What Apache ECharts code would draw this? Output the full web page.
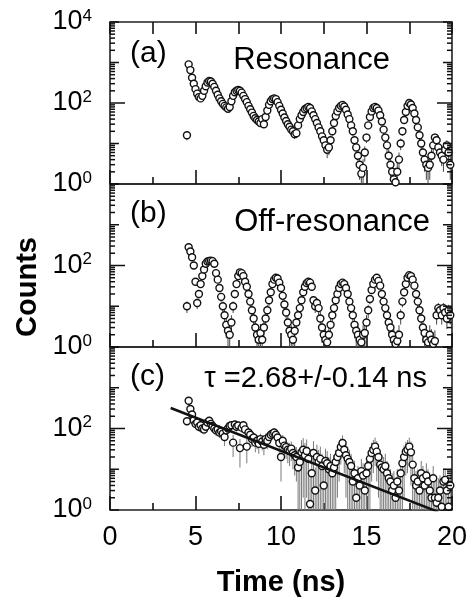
<!DOCTYPE html>
<html><head><meta charset="utf-8">
<script src="https://cdn.jsdelivr.net/npm/echarts@6/dist/echarts.min.js"></script>
<style>html,body{margin:0;padding:0;background:#fff}#c{width:473px;height:601px}</style>
</head><body><div id="c"></div>
<script>
// ---- data ----
const times = [4.5,4.6,4.7,4.8,4.9,
5.0,5.1,5.2,5.3,5.4,5.5,5.6,5.7,5.8,5.9,
6.0,6.1,6.2,6.3,6.4,6.5,6.6,6.7,6.8,6.9,
7.0,7.1,7.2,7.3,7.4,7.5,7.6,7.7,7.8,7.9,
8.0,8.1,8.2,8.3,8.4,8.5,8.6,8.7,8.8,8.9,
9.0,9.1,9.2,9.3,9.4,9.5,9.6,9.7,9.8,9.9,
10.0,10.1,10.2,10.3,10.4,10.5,10.6,10.7,10.8,10.9,
11.0,11.1,11.2,11.3,11.4,11.5,11.6,11.7,11.8,11.9,
12.0,12.1,12.2,12.3,12.4,12.5,12.6,12.7,12.8,12.9,
13.0,13.1,13.2,13.3,13.4,13.5,13.6,13.7,13.8,13.9,
14.0,14.1,14.2,14.3,14.4,14.5,14.6,14.7,14.8,14.9,
15.0,15.1,15.2,15.3,15.4,15.5,15.6,15.7,15.8,15.9,
16.0,16.1,16.2,16.3,16.4,16.5,16.6,16.7,16.8,16.9,
17.0,17.1,17.2,17.3,17.4,17.5,17.6,17.7,17.8,17.9,
18.0,18.1,18.2,18.3,18.4,18.5,18.6,18.7,18.8,18.9,
19.0,19.1,19.2,19.3,19.4,19.5,19.6,19.7,19.8,19.9];

const resonanceCounts = [16,900,650,420,300,
220,170,140,130,150,200,260,320,350,340,
300,250,200,160,130,110,95,85,78,72,
80,110,150,185,200,210,200,180,150,125,
105,85,70,58,48,42,38,35,32,40,
30,45,65,90,110,125,130,125,105,85,
68,55,44,36,30,26,22,20,17,18,
28,40,50,60,70,75,80,75,62,50,
40,32,25,20,15,12,9,7,8,12,
20,32,48,62,75,85,90,82,68,52,
40,28,20,12,8,5,3,1.8,2.5,6,
14,28,45,62,75,80,75,65,50,35,
22,14,9,5,3,2,1.3,1.1,2,4,
10,20,38,60,85,100,92,75,55,38,
25,16,10,6,4,3,2.5,3,5,9,
14,12,8,6,5,4,7,9,6,3];

const offResonanceCounts = [10,280,220,160,100,
40,12,20,35,55,80,110,125,130,132,
128,110,65,45,28,17,10,6,3.5,2.5,
2,4,10,20,35,55,68,65,55,40,
30,20,13,8,5,3,2,1.5,2.2,1.5,
3,5,8,14,22,35,45,50,48,38,
28,18,11,7,4,2.5,2,1.5,2.5,4,
6,9,14,22,30,37,40,38,30,14,
10,12,9,5,3,2,1.5,1.3,2,3.5,
6,9,14,20,28,35,38,35,28,20,
13,9,6,3.5,2.5,2,1.5,1.3,2,2.2,
4,8,15,25,35,45,50,42,32,20,
13,9,6,4,3,2,1.5,1.2,1.4,2,
6,13,22,35,50,58,55,45,32,20,
13,8,5,3,2.2,1.5,1.3,2,1.5,1.2,
1.4,6,9,8,6,9,7,5,8,6];

const decayCounts = [150,480,300,220,160,
130,140,110,120,100,95,110,140,155,130,
115,100,90,95,80,85,75,62,90,100,
115,120,45,125,110,118,33,105,120,95,
36,80,70,55,60,45,50,42,55,48,
40,55,50,62,70,75,80,70,60,44,
20,50,38,35,30,28,32,25,22,20,
11,15,26,30,22,28,18,1.4,8,25,
3,20,15,18,12,4,16,14,10,12,
8,11,15,20,25,35,44,30,22,18,
15,12,5,8,2,6,4,9,7,3,
8,12,18,25,30,36,27,20,13,11,
10,12,8,6,5,3,4,2,5,3,
8,14,20,27,30,36,26,13,6,4,
5,3,8,6,4,7,5,3,2,6,
2,1.5,2,3,1.2,5,5.5,3,1.2,4];

const decayErrors = [30,70,50,40,30,
28,28,25,26,24,24,25,28,30,28,
26,25,24,24,22,23,22,25,24,25,
26,26,25,27,26,26,22,25,26,24,
22,22,21,20,20,19,19,18,20,19,
18,20,19,20,21,21,22,21,20,25,
15,19,17,17,16,16,16,15,15,15,
10,15,26,28,22,26,18,8,10,24,
8,20,15,18,12,8,16,14,10,12,
8,11,15,18,20,22,24,22,20,18,
15,12,6,8,6,6,5,9,7,5,
8,12,17,20,22,24,22,18,13,11,
10,12,8,6,5,5,5,4,5,5,
8,14,18,20,22,24,22,13,6,5,
5,4,8,6,5,7,5,4,4,6,
4,4,4,4,3,5,5,4,3,4];

const fitTimes = [3.55, 19.2];
const fitCounts = [320, 0.9];

const xTickValues = [0, 5, 10, 15, 20];
const panelLabels = ['(a)', '(b)', '(c)'];
const panelTitles = ['Resonance', 'Off-resonance', '\u03c4 =2.68+/-0.14 ns'];
const yAxisTitle = 'Counts';
const xAxisTitle = 'Time (ns)';

// ---- chart ----
const FONT = 'Liberation Sans, Arial, Helvetica, sans-serif';
const chart = echarts.init(document.getElementById('c'), null, {renderer: 'canvas'});

const grids = [
  {left: 110, width: 342, top: 22, height: 162},
  {left: 110, width: 342, top: 184, height: 163},
  {left: 110, width: 342, top: 347, height: 163}
].map(g => Object.assign({show: true, borderColor: '#222', borderWidth: 1.6, backgroundColor: 'transparent'}, g));

function xAxisFor(i, showLabels) {
  return {
    type: 'value', gridIndex: i, min: xTickValues[0], max: xTickValues[xTickValues.length - 1],
    interval: xTickValues[1] - xTickValues[0],
    axisLine: {show: false},
    axisTick: {show: true, inside: true, length: 14, lineStyle: {color: '#111', width: 1.6}},
    minorTick: {show: true, splitNumber: 2, length: 7, lineStyle: {color: '#111', width: 1.6}},
    splitLine: {show: false},
    axisLabel: {show: showLabels, fontSize: 27, fontFamily: FONT, color: '#000', margin: 14}
  };
}
const xAxes = [xAxisFor(0, false), xAxisFor(1, false), xAxisFor(2, true)];
xAxes.push(Object.assign(xAxisFor(0, false), {position: 'top',
  axisTick: {show: true, inside: true, length: 12, lineStyle: {color: '#111', width: 1.6}},
  minorTick: {show: true, splitNumber: 2, length: 12, lineStyle: {color: '#111', width: 1.6}}}));

function yAxisFor(i, maxLabelExp) {
  return {
    type: 'log', logBase: 10, gridIndex: i, min: 1, max: 10000,
    axisLine: {show: false}, axisTick: {show: false}, splitLine: {show: false},
    axisLabel: {
      show: true, margin: 18, fontFamily: FONT, color: '#000',
      formatter: function (v) {
        const e = Math.round(Math.log10(v));
        if (e % 2 !== 0 || e > maxLabelExp) return '';
        return '{b|10}{s|' + e + '}';
      },
      rich: {
        b: {fontSize: 27, fontFamily: FONT, color: '#000'},
        s: {fontSize: 17, fontFamily: FONT, color: '#000', padding: [0, 0, 12, 0]}
      }
    }
  };
}
const yAxes = [yAxisFor(0, 4), yAxisFor(1, 2), yAxisFor(2, 2)];

function errorSeries(i, lows, highs, color) {
  return {
    type: 'custom', xAxisIndex: i, yAxisIndex: i, clip: true, z: 2,
    data: times.map((t, k) => [t, lows[k], highs[k]]),
    encode: {x: 0, y: [1, 2]},
    renderItem: function (params, api) {
      const p1 = api.coord([api.value(0), api.value(1)]);
      const p2 = api.coord([api.value(0), api.value(2)]);
      return {type: 'line', shape: {x1: p1[0], y1: p1[1], x2: p2[0], y2: p2[1]},
              style: {stroke: color, lineWidth: 1}};
    }
  };
}
function scatterSeries(i, values) {
  return {
    type: 'scatter', xAxisIndex: i, yAxisIndex: i, z: 3, clip: true,
    symbol: 'circle', symbolSize: 7,
    itemStyle: {color: '#fff', borderColor: '#111', borderWidth: 1.4, opacity: 1},
    data: times.map((t, k) => [t, values[k]])
  };
}
// Poisson (sqrt N) uncertainty for the raw counting spectra
const poissonLow = arr => arr.map(v => Math.max(v - Math.sqrt(v), 0.3));
const poissonHigh = arr => arr.map(v => v + Math.sqrt(v));

const series = [
  errorSeries(0, poissonLow(resonanceCounts), poissonHigh(resonanceCounts), '#444'),
  scatterSeries(0, resonanceCounts),
  errorSeries(1, poissonLow(offResonanceCounts), poissonHigh(offResonanceCounts), '#444'),
  scatterSeries(1, offResonanceCounts),
  errorSeries(2, decayCounts.map((v, k) => Math.max(v - decayErrors[k], 0.3)),
                 decayCounts.map((v, k) => v + decayErrors[k]), '#7a7a7a'),
  scatterSeries(2, decayCounts),
  {type: 'line', xAxisIndex: 2, yAxisIndex: 2, z: 4, clip: true, showSymbol: false, symbol: 'none',
   lineStyle: {color: '#111', width: 2.6},
   data: fitTimes.map((t, k) => [t, fitCounts[k]])}
];

chart.setOption({
  animation: false,
  backgroundColor: '#fff',
  grid: grids, xAxis: xAxes, yAxis: yAxes, series: series
});

// ---- y-axis decade / minor ticks (both sides), and texts ----
const graphics = [];
for (let gi = 0; gi < 3; gi++) {
  const xl = chart.convertToPixel({gridIndex: gi}, [0, 1])[0];
  const xr = chart.convertToPixel({gridIndex: gi}, [20, 1])[0];
  for (let k = 0; k <= 4; k++) {
    for (let m = 1; m <= 9; m++) {
      if (k === 4 && m > 1) break;
      const v = m * Math.pow(10, k);
      const y = chart.convertToPixel({gridIndex: gi}, [0, v])[1];
      let len = 5;
      if (m === 1) len = (k === 2) ? 15 : 9;
      graphics.push({type: 'line', silent: true, z: 10,
        shape: {x1: xl, y1: y, x2: xl + len, y2: y}, style: {stroke: '#111', lineWidth: 1.5}});
      graphics.push({type: 'line', silent: true, z: 10,
        shape: {x1: xr - len, y1: y, x2: xr, y2: y}, style: {stroke: '#111', lineWidth: 1.5}});
    }
  }
}
const labelPos = [[130, 54], [130, 214], [130, 377]];
const titlePos = [[390, 60], [430, 222], [427, 379]];
const titleSize = [31, 31, 29];
for (let i = 0; i < 3; i++) {
  graphics.push({type: 'text', x: labelPos[i][0], y: labelPos[i][1], z: 20,
    style: {text: panelLabels[i], font: '30px ' + FONT, fill: '#000', align: 'left', verticalAlign: 'middle'}});
  graphics.push({type: 'text', x: titlePos[i][0], y: titlePos[i][1], z: 20,
    style: {text: panelTitles[i], font: titleSize[i] + 'px ' + FONT, fill: '#000', align: 'right', verticalAlign: 'middle'}});
}
graphics.push({type: 'text', x: 28, y: 287, rotation: Math.PI / 2, z: 20,
  style: {text: yAxisTitle, font: 'bold 29px ' + FONT, fill: '#000', align: 'center', verticalAlign: 'middle'}});
graphics.push({type: 'text', x: 281, y: 583, z: 20,
  style: {text: xAxisTitle, font: 'bold 29px ' + FONT, fill: '#000', align: 'center', verticalAlign: 'middle'}});
chart.setOption({graphic: graphics});
</script>
</body></html>
